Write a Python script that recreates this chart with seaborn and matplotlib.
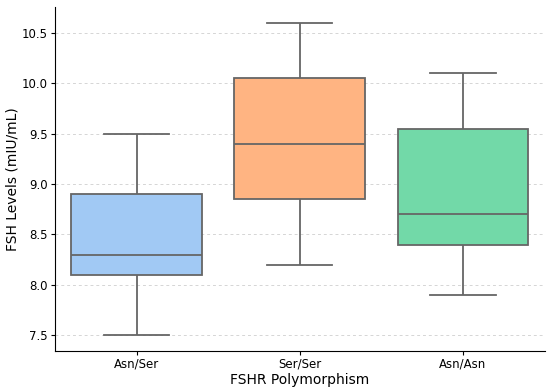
import pandas as pd
import matplotlib
matplotlib.use("Agg")
import matplotlib.pyplot as plt
import seaborn as sns

# five-number summaries (min, Q1, median, Q3, max)
genotypes = ["Asn/Ser", "Ser/Ser", "Asn/Asn"]
asn_ser = [7.5, 8.1, 8.3, 8.9, 9.5]
ser_ser = [8.2, 8.85, 9.4, 10.05, 10.6]
asn_asn = [7.9, 8.4, 8.7, 9.55, 10.1]
colors = ["#a1c9f4", "#ffb482", "#72d9a8"]

rows = []
for name, vals in zip(genotypes, [asn_ser, ser_ser, asn_asn]):
    for v in vals:
        rows.append({"FSHR Polymorphism": name, "FSH Levels (mIU/mL)": v})
df = pd.DataFrame(rows)

fig, ax = plt.subplots(figsize=(5.5, 3.9), dpi=100)
sns.boxplot(data=df, x="FSHR Polymorphism", y="FSH Levels (mIU/mL)",
            hue="FSHR Polymorphism", palette=colors, order=genotypes,
            saturation=1, width=0.8, linewidth=1.3, linecolor="#666666",
            legend=False, ax=ax)

ax.yaxis.grid(True, linestyle=(0, (3, 3)), color="#d5d5d5", linewidth=0.7)
ax.set_axisbelow(True)
sns.despine(ax=ax)
ax.set_xlabel("FSHR Polymorphism", fontsize=10, labelpad=2)
ax.set_ylabel("FSH Levels (mIU/mL)", fontsize=10, labelpad=2)
ax.tick_params(labelsize=8.5, length=3)
ax.tick_params(axis="x", pad=1.5)
ax.tick_params(axis="y", pad=2)

plt.subplots_adjust(left=0.1, right=0.99, top=0.982, bottom=0.1)
plt.savefig("out.png", dpi=100)
